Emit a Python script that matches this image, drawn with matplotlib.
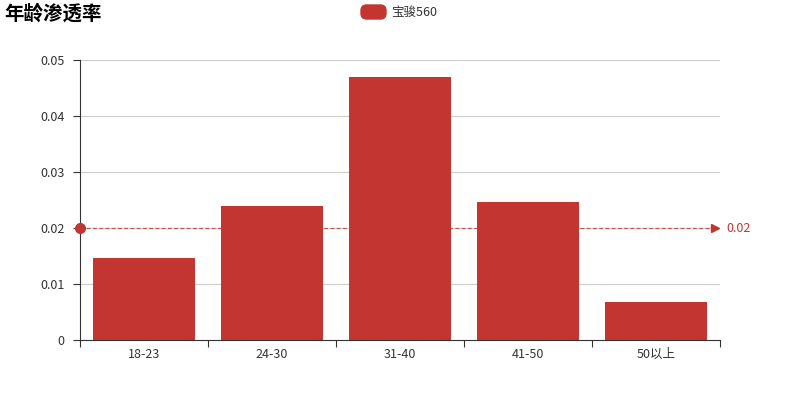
import matplotlib
matplotlib.use("Agg")
import matplotlib.pyplot as plt
from matplotlib.patches import FancyBboxPatch
import numpy as np

plt.rcParams['font.family'] = ['Noto Sans CJK SC', 'DejaVu Sans']

title = "年龄渗透率"
series_name = "宝骏560"
categories = ["18-23", "24-30", "31-40", "41-50", "50以上"]
values = [0.0146, 0.0239, 0.0470, 0.0246, 0.0068]
mark_value = 0.02
yticks = [0, 0.01, 0.02, 0.03, 0.04, 0.05]
ytick_labels = ["0", "0.01", "0.02", "0.03", "0.04", "0.05"]

RED = "#c23531"
TXT = "#333333"

fig = plt.figure(figsize=(8, 4), dpi=100)
ax = fig.add_axes([0.1, 0.15, 0.8, 0.7])

x = np.arange(len(categories))
ax.bar(x, values, width=0.8, color=RED, zorder=2)
ax.set_xlim(-0.5, len(categories) - 0.5)
ax.set_ylim(0, 0.05)

ax.set_yticks(yticks)
ax.set_yticklabels(ytick_labels, color=TXT, fontsize=9)
ax.yaxis.grid(True, color="#cccccc", linewidth=0.8, zorder=0)
ax.set_axisbelow(True)
ax.tick_params(axis='y', length=5, color=TXT, width=0.8, pad=6)

# x ticks at category boundaries, labels at centers
ax.set_xticks(np.arange(-0.5, len(categories), 1.0))
ax.set_xticklabels([""] * (len(categories) + 1))
ax.set_xticks(x, minor=True)
ax.set_xticklabels(categories, minor=True, color=TXT, fontsize=9)
ax.tick_params(axis='x', which='major', length=5, color=TXT, width=0.8)
ax.tick_params(axis='x', which='minor', length=0, pad=6)

for s in ["top", "right"]:
    ax.spines[s].set_visible(False)
ax.spines["left"].set_color(TXT)
ax.spines["bottom"].set_color(TXT)
ax.spines["left"].set_linewidth(0.8)
ax.spines["bottom"].set_linewidth(0.8)

# mark line
x0, x1 = -0.5, len(categories) - 0.5 - 0.04
ax.plot([x0, x1], [mark_value, mark_value], color=RED, linestyle=(0, (3, 2)),
        linewidth=0.9, alpha=0.8, zorder=1, clip_on=False)
ax.plot([x0], [mark_value], marker='o', markersize=7, color=RED, zorder=4, clip_on=False)
ax.plot([x1], [mark_value], marker='>', markersize=6, color=RED, zorder=4, clip_on=False)
ax.text(x1 + 0.09, mark_value, f"{mark_value:g}", color=RED, fontsize=9,
        va='center', ha='left', clip_on=False)

# title
fig.text(0.006, 0.965, title, fontsize=14, fontweight='bold', color="#000000",
         va='center', ha='left')

# legend
legend_patch = FancyBboxPatch((361 / 800, (400 - 19) / 400), 25 / 800, 14 / 400,
                              boxstyle="round,pad=0,rounding_size=0.007",
                              transform=fig.transFigure, color=RED,
                              mutation_aspect=2)
fig.patches.append(legend_patch)
fig.text(391 / 800, (400 - 12) / 400, series_name, fontsize=9, color=TXT,
         va='center', ha='left')

fig.savefig("out.png", dpi=100)
